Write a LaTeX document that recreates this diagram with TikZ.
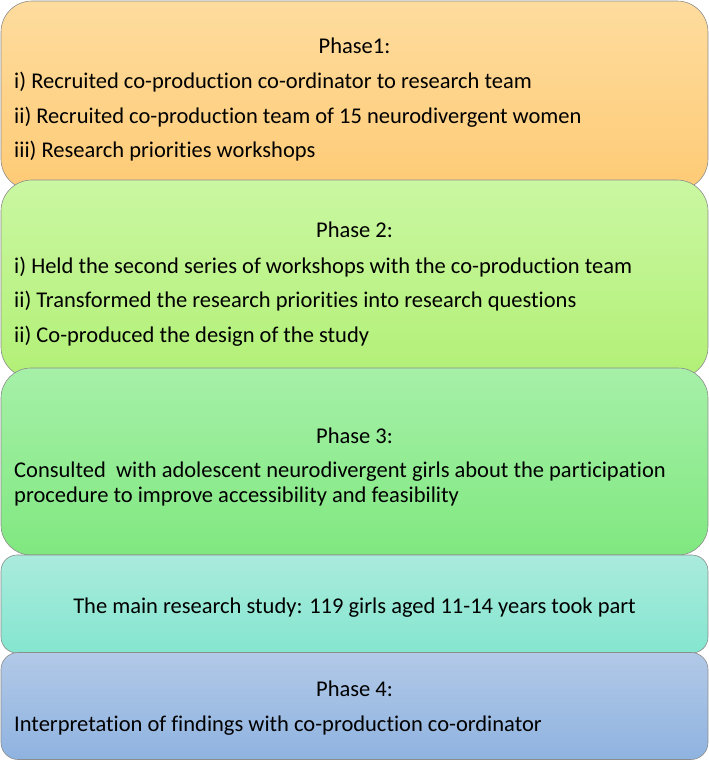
\documentclass[tikz,border=0pt]{standalone}
\usepackage{fontspec}
\setmainfont{Carlito}[Ligatures=NoCommon]
\usepackage{xcolor}
\definecolor{orTop}{HTML}{FEDC9E}
\definecolor{orBot}{HTML}{FECB76}
\definecolor{lgTop}{HTML}{CAF7A2}
\definecolor{lgBot}{HTML}{B2F076}
\definecolor{gnTop}{HTML}{A6F0A8}
\definecolor{gnBot}{HTML}{80E880}
\definecolor{tqTop}{HTML}{AAEBDD}
\definecolor{tqBot}{HTML}{84E6CF}
\definecolor{blTop}{HTML}{B2C9E7}
\definecolor{blBot}{HTML}{8FB3E0}

\begin{document}
\begin{tikzpicture}[x=1pt,y=-1pt,
  phase/.style={draw=black!45,line width=0.6pt,minimum width=707pt,inner sep=0pt},
  head/.style={anchor=base,inner sep=0pt},
  item/.style={anchor=base west,inner sep=0pt}]
  \useasboundingbox (0,0) rectangle (709,761);
  \fontsize{22.5}{25}\selectfont
  % stacked phase boxes, later ones drawn over earlier ones
  \node[phase,minimum height=189pt,rounded corners=31pt,top color=orTop,bottom color=orBot] (p1) at (354.5,95.5) {};
  \node[phase,minimum height=198pt,rounded corners=31pt,top color=lgTop,bottom color=lgBot] (p2) at (354.5,279) {};
  \node[phase,minimum height=187pt,rounded corners=30pt,top color=gnTop,bottom color=gnBot] (p3) at (354.5,461.5) {};
  \node[phase,minimum height=98pt,rounded corners=16pt,top color=tqTop,bottom color=tqBot] (p4) at (354.5,604) {};
  \node[phase,minimum height=107pt,rounded corners=17pt,top color=blTop,bottom color=blBot] (p5) at (354.5,706) {};
  % phase 1
  \node[head] (h1) at (354.5,53) {Phase1:};
  \node[item] (p1a) at (14,88) {i) Recruited co-production co-ordinator to research team};
  \node[item] (p1b) at (14,123) {ii) Recruited co-production team of 15 neurodivergent women};
  \node[item] (p1c) at (14,157) {iii) Research priorities workshops};
  % phase 2
  \node[head] (h2) at (354.5,237) {Phase 2:};
  \node[item] (p2a) at (14,273) {i) Held the second series of workshops with the co-production team};
  \node[item] (p2b) at (14,307) {ii) Transformed the research priorities into research questions};
  \node[item] (p2c) at (14,342) {ii) Co-produced the design of the study};
  % phase 3
  \node[head] (h3) at (354.5,443) {Phase 3:};
  \node[item] (p3a) at (14,477) {Consulted~ with adolescent neurodivergent girls about the participation};
  \node[item] (p3b) at (14,502) {procedure to improve accessibility and feasibility};
  % main study
  \node[head] (ms) at (354.5,613) {The main research study: 119 girls aged 11-14 years took part};
  % phase 4
  \node[head] (h4) at (354.5,696) {Phase 4:};
  \node[item] (p4a) at (14,731) {Interpretation of findings with co-production co-ordinator};
\end{tikzpicture}
\end{document}
